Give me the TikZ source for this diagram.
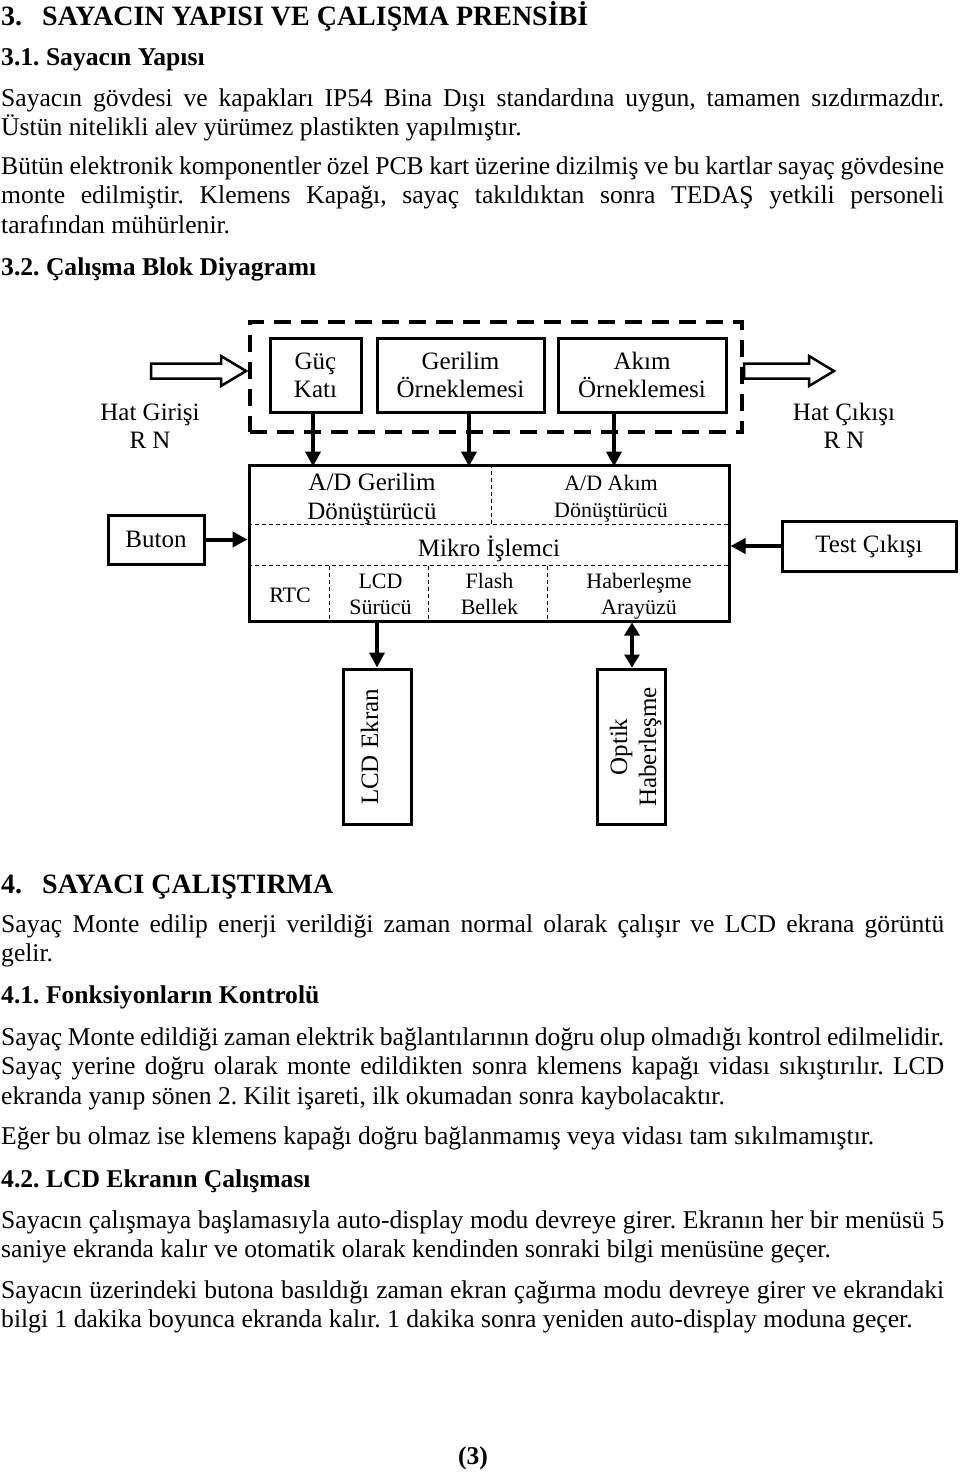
\documentclass[tikz,border=0pt]{standalone}
\usepackage{fontspec}
\setmainfont{Liberation Serif}
\usetikzlibrary{arrows.meta,calc}
\frenchspacing
\begin{document}
\begin{tikzpicture}[x=1pt,y=-1pt,
  txt/.style={anchor=base west, inner sep=0pt, font=\fontsize{25.6}{29.5}\selectfont\frenchspacing},
  hd/.style={anchor=base west, inner sep=0pt, font=\fontsize{25.6}{29.5}\selectfont\bfseries\frenchspacing},
  hdbig/.style={anchor=base west, inner sep=0pt, font=\fontsize{28}{32}\selectfont\bfseries\frenchspacing},
  lbl/.style={anchor=base, inner sep=0pt, font=\fontsize{25}{28}\selectfont},
  slbl/.style={anchor=base, inner sep=0pt, font=\fontsize{22}{26}\selectfont},
  box/.style={draw, line width=3pt, inner sep=0pt, align=center, font=\fontsize{25}{28}\selectfont},
  grpbox/.style={draw, line width=4pt, dash pattern=on 17pt off 10pt, inner sep=0pt},
  thindash/.style={line width=1pt, dash pattern=on 4pt off 3pt},
  arr/.style={line width=4pt, -{Triangle[length=15pt,width=15pt]}},
  darr/.style={line width=4pt, {Triangle[length=13pt,width=15pt]}-{Triangle[length=13pt,width=15pt]}},
  hollow/.style={line width=2.5pt, line join=miter, fill=white}
]
\useasboundingbox[fill=white] (0,0) rectangle (960,1472);

% ---------- upper text ----------
\node[hdbig] (h3) at (1,26) {\makebox[41pt][l]{3.}SAYACIN YAPISI VE ÇALIŞMA PRENSİBİ};
\node[hd] (h31) at (1,66) {3.1. Sayacın Yapısı};
\node[txt] (p1a) at (1,106) {\makebox[943pt][s]{Sayacın gövdesi ve kapakları IP54 Bina Dışı standardına uygun, tamamen sızdırmazdır.}};
\node[txt] (p1b) at (1,135.5) {Üstün nitelikli alev yürümez plastikten yapılmıştır.};
\node[txt] (p2a) at (1,174) {\makebox[943pt][s]{Bütün elektronik komponentler özel PCB kart üzerine dizilmiş ve bu kartlar sayaç gövdesine}};
\node[txt] (p2b) at (1,203.5) {\makebox[943pt][s]{monte edilmiştir. Klemens Kapağı, sayaç takıldıktan sonra TEDAŞ yetkili personeli}};
\node[txt] (p2c) at (1,233) {tarafından mühürlenir.};
\node[hd] (h32) at (1,275) {3.2. Çalışma Blok Diyagramı};

% ---------- diagram ----------
\node[grpbox, minimum width=492pt, minimum height=110pt] (grp) at (496,377) {};
\node[box, minimum width=91pt, minimum height=74pt] (guc) at (315.5,375) {Güç\\Katı};
\node[box, minimum width=167pt, minimum height=74pt] (ger) at (460.5,375) {Gerilim\\Örneklemesi};
\node[box, minimum width=168pt, minimum height=74pt] (akim) at (642,375) {Akım\\Örneklemesi};

\node[lbl] (hg1) at (150,420) {Hat Girişi};
\node[lbl] (hg2) at (150,448) {R N};
\node[lbl] (hc1) at (844,420) {Hat Çıkışı};
\node[lbl] (hc2) at (844,448) {R N};

% hollow arrows
\coordinate (inTip) at ($(grp.west)+(-2,-6)$);
\draw[hollow] (inTip) -- ++(-25,-15) -- ++(0,7.5) -- ++(-70,0) -- ++(0,15) -- ++(70,0) -- ++(0,7.5) -- cycle;
\coordinate (outStart) at ($(grp.east)+(0,-6)$);
\draw[hollow] (outStart) -- ++(0,-7.5) -- ++(65,0) -- ++(0,-7.5) -- ++(25,15) -- ++(-25,15) -- ++(0,-7.5) -- ++(-65,0) -- cycle;

% main processor box
\node[draw, line width=3pt, minimum width=480pt, minimum height=156pt, inner sep=0pt] (mcu) at (489,543) {};
\draw[thindash] ($(mcu.north west)+(0,61)$) -- ($(mcu.north east)+(0,61)$);
\draw[thindash] ($(mcu.north west)+(0,102)$) -- ($(mcu.north east)+(0,102)$);
\draw[thindash] ($(mcu.north west)+(244,0)$) -- ($(mcu.north west)+(244,61)$);
\draw[thindash] ($(mcu.north west)+(82,102)$) -- ($(mcu.north west)+(82,156)$);
\draw[thindash] ($(mcu.north west)+(181,102)$) -- ($(mcu.north west)+(181,156)$);
\draw[thindash] ($(mcu.north west)+(300,102)$) -- ($(mcu.north west)+(300,156)$);

\node[lbl] (adg1) at (372,490) {A/D Gerilim};
\node[lbl] (adg2) at (372,519) {Dönüştürücü};
\node[slbl] (ada1) at (611,490) {A/D Akım};
\node[slbl] (ada2) at (611,517) {Dönüştürücü};
\node[lbl] (mik) at (489,556) {Mikro İşlemci};
\node[slbl] (rtc) at (290,602) {RTC};
\node[slbl] (lcd1) at (380.5,588) {LCD};
\node[slbl] (lcd2) at (380.5,614) {Sürücü};
\node[slbl] (fl1) at (489.5,588) {Flash};
\node[slbl] (fl2) at (489.5,614) {Bellek};
\node[slbl] (hb1) at (639,588) {Haberleşme};
\node[slbl] (hb2) at (639,614) {Arayüzü};

\node[box, minimum width=96pt, minimum height=49pt] (buton) at (156,539.5) {Buton};
\node[box, minimum width=174pt, minimum height=50pt] (test) at (869,546) {Test Çıkışı};

\node[draw, line width=3pt, minimum width=68pt, minimum height=155pt, inner sep=0pt] (lcdb) at (377,746.5) {};
\node[draw, line width=3pt, minimum width=68pt, minimum height=155pt, inner sep=0pt] (optb) at (631,746.5) {};
\node[lbl, rotate=90] (lcdt) at (378,747) {LCD Ekran};
\node[lbl, rotate=90] (opt1) at (627,747) {Optik};
\node[lbl, rotate=90] (opt2) at (656,747) {Haberleşme};

% arrows
\draw[arr] ([xshift=-2.5pt]guc.south) -- +(0,53);
\draw[arr] ([xshift=8.5pt]ger.south) -- +(0,53);
\draw[arr] ([xshift=-28pt]akim.south) -- +(0,53);
\draw[arr] (buton.east) -- (buton.east -| mcu.west);
\draw[arr] (test.west) -- (test.west -| mcu.east);
\draw[arr] (lcdb.north |- mcu.south) -- (lcdb.north);
\draw[darr] ([xshift=1pt]optb.north |- mcu.south) -- ([xshift=1pt]optb.north);

% ---------- lower text ----------
\node[hdbig] (h4) at (1,893) {\makebox[41pt][l]{4.}SAYACI ÇALIŞTIRMA};
\node[txt] (q1a) at (1,932) {\makebox[943pt][s]{Sayaç Monte edilip enerji verildiği zaman normal olarak çalışır ve LCD ekrana görüntü}};
\node[txt] (q1b) at (1,961.5) {gelir.};
\node[hd] (h41) at (1,1003) {4.1. Fonksiyonların Kontrolü};
\node[txt] (q2a) at (1,1045) {\makebox[943pt][s]{Sayaç Monte edildiği zaman elektrik bağlantılarının doğru olup olmadığı kontrol edilmelidir.}};
\node[txt] (q2b) at (1,1074.5) {\makebox[943pt][s]{Sayaç yerine doğru olarak monte edildikten sonra klemens kapağı vidası sıkıştırılır. LCD}};
\node[txt] (q2c) at (1,1104) {ekranda yanıp sönen 2. Kilit işareti, ilk okumadan sonra kaybolacaktır.};
\node[txt] (q3) at (1,1144) {Eğer bu olmaz ise klemens kapağı doğru bağlanmamış veya vidası tam sıkılmamıştır.};
\node[hd] (h42) at (1,1187) {4.2. LCD Ekranın Çalışması};
\node[txt] (q4a) at (1,1228) {\makebox[943pt][s]{Sayacın çalışmaya başlamasıyla auto-display modu devreye girer. Ekranın her bir menüsü 5}};
\node[txt] (q4b) at (1,1257.5) {saniye ekranda kalır ve otomatik olarak kendinden sonraki bilgi menüsüne geçer.};
\node[txt] (q5a) at (1,1298) {\makebox[943pt][s]{Sayacın üzerindeki butona basıldığı zaman ekran çağırma modu devreye girer ve ekrandaki}};
\node[txt] (q5b) at (1,1327.5) {bilgi 1 dakika boyunca ekranda kalır. 1 dakika sonra yeniden auto-display moduna geçer.};
\node[hd, anchor=base] (pg) at (473,1464) {(3)};
\end{tikzpicture}
\end{document}
